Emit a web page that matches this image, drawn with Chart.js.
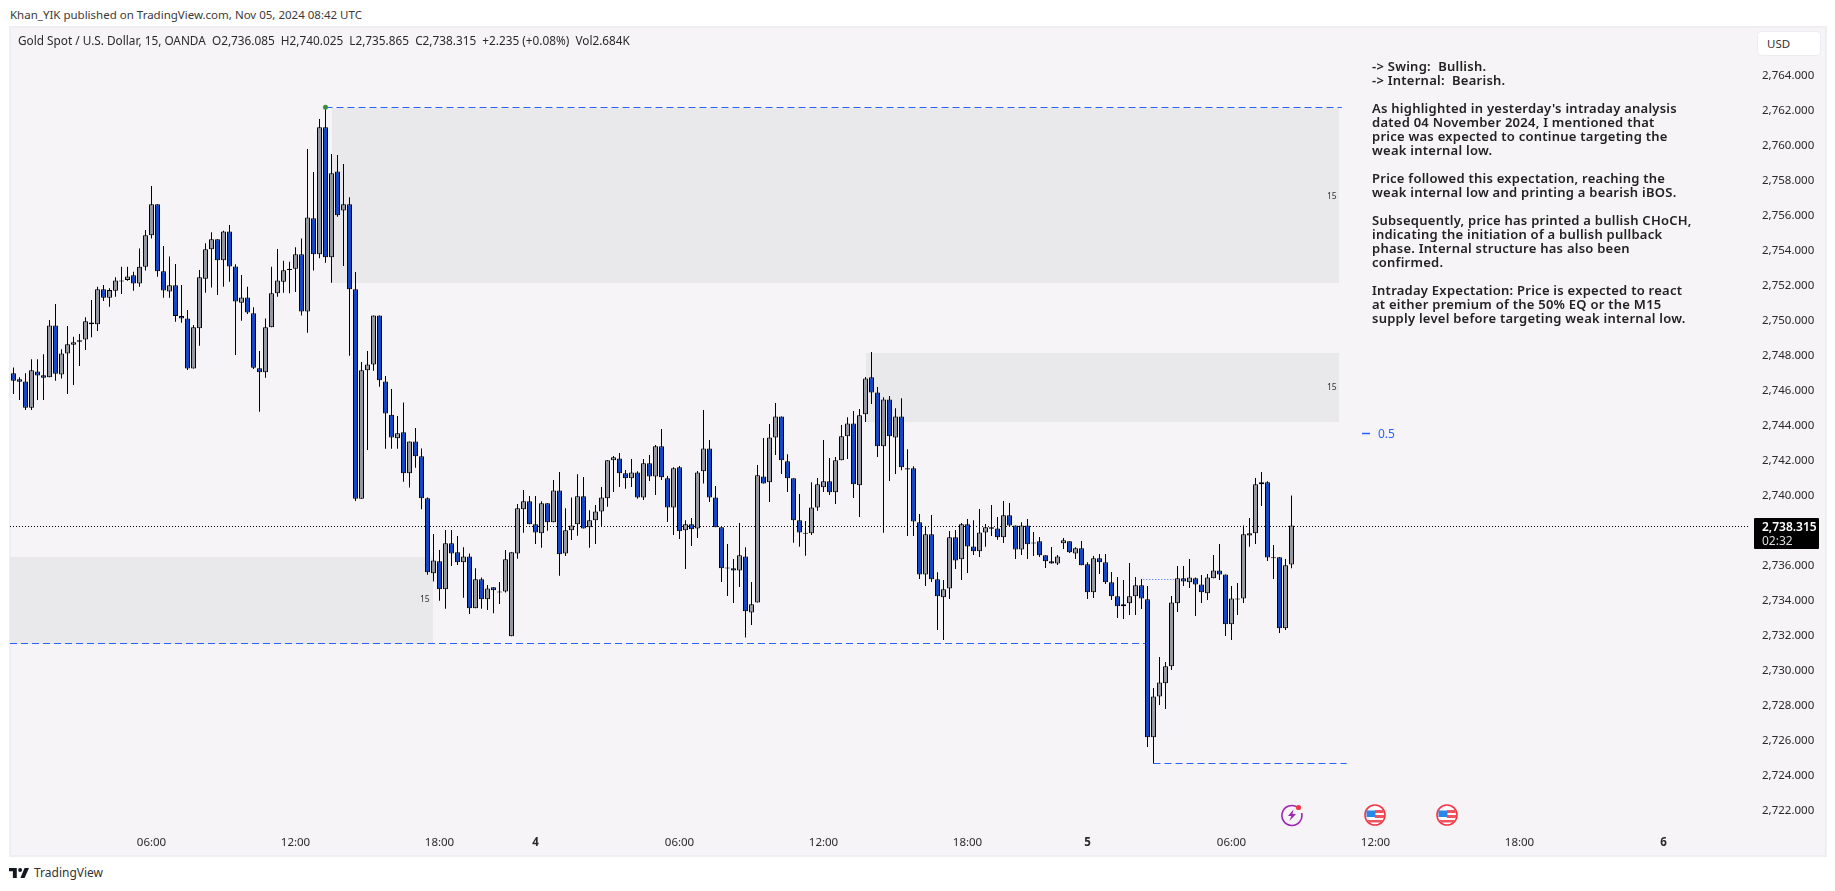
<!DOCTYPE html>
<html>
<head>
<meta charset="utf-8">
<title>Gold Spot / U.S. Dollar</title>
<script src="https://cdn.jsdelivr.net/npm/chart.js@4"></script>
<style>
  html, body { margin: 0; padding: 0; background: #fff; width: 1835px; height: 891px; overflow: hidden; }
  body { position: relative; font-family: "Noto Sans", sans-serif; color: #222; }
  .abs { position: absolute; white-space: pre; }
  #panel { left: 9px; top: 26px; width: 1814px; height: 827px; background: #f6f4f6; border: 2px solid #efeff3; }
  #chart { position: absolute; left: 10px; top: 27px; }
  #title { left: 10px; top: 7px; font-size: 11.5px; line-height: 15px; color: #3a3a3a; }
  #legend { left: 18px; top: 33px; font-size: 11.8px; line-height: 15px; color: #2a2a2a; }
  #notes { left: 1372px; top: 59px; font-size: 13px; letter-spacing: .25px; line-height: 14px; font-weight: 600; color: #222; }
  .zn { font-size: 8.5px; line-height: 10px; color: #333; }
  #usd { left: 1757px; top: 31px; width: 64px; height: 25px; box-sizing: border-box; background: #fff; border: 1px solid #ececf1; border-radius: 4px; font-size: 11.5px; line-height: 23px; padding-left: 9px; color: #333; }
  #last { left: 1754px; top: 518px; width: 57px; height: 29px; background: #000; font-size: 12px; line-height: 14px; padding: 2px 0 0 8px; color: #fff; font-weight: 600; border-radius: 1px; }
  #last span { font-weight: 400; color: #ddd; }
  #half { left: 1378px; top: 426px; font-size: 12px; line-height: 15px; color: #2962ff; }
  #brand { left: 34px; top: 865px; font-size: 12px; line-height: 16px; color: #333; }
</style>
</head>
<body>
<div class="abs" id="panel"></div>
<canvas id="chart" width="1815" height="828"></canvas>
<div class="abs" id="title">Khan_YIK published on TradingView.com, Nov 05, 2024 08:42 UTC</div>
<div class="abs" id="legend">Gold Spot / U.S. Dollar, 15, OANDA  O2,736.085  H2,740.025  L2,735.865  C2,738.315  +2.235 (+0.08%)  Vol2.684K</div>
<div class="abs" id="notes">-&gt; Swing:  Bullish.
-&gt; Internal:  Bearish.

As highlighted in yesterday's intraday analysis
dated 04 November 2024, I mentioned that
price was expected to continue targeting the
weak internal low.

Price followed this expectation, reaching the
weak internal low and printing a bearish iBOS.

Subsequently, price has printed a bullish CHoCH,
indicating the initiation of a bullish pullback
phase. Internal structure has also been
confirmed.

Intraday Expectation: Price is expected to react
at either premium of the 50% EQ or the M15
supply level before targeting weak internal low.</div>
<div class="abs zn" style="left:1327px;top:191px">15</div>
<div class="abs zn" style="left:1327px;top:382px">15</div>
<div class="abs zn" style="left:420px;top:594px">15</div>
<div class="abs" id="half">0.5</div>
<div class="abs" id="usd">USD</div>

<svg class="abs" style="left:1280px;top:803px" width="24" height="24" viewBox="0 0 24 24">
  <path d="M17.5 4.2A10 10 0 1 0 21.6 10" fill="none" stroke="#9c27b0" stroke-width="1.6"/>
  <path d="M13.5 6.5 8 13h3.4l-2 5L16 11h-3.6z" fill="#9c27b0"/>
  <circle cx="18.5" cy="4.5" r="2.6" fill="#f23645"/>
</svg>
<svg class="abs" style="left:1363px;top:803px" width="24" height="24" viewBox="0 0 24 24">
  <circle cx="12" cy="12" r="10" fill="#fff" stroke="#f23645" stroke-width="1.6"/>
  <path d="M12 7h8.6v3H12zM12 12h9v3H12zM4 17h16l-2.5 2.5h-11z" fill="#f0555f"/>
  <path d="M3.5 7.5h9v6.5h-9z" fill="#2a86e8"/>
</svg>
<svg class="abs" style="left:1435px;top:803px" width="24" height="24" viewBox="0 0 24 24">
  <circle cx="12" cy="12" r="10" fill="#fff" stroke="#f23645" stroke-width="1.6"/>
  <path d="M12 7h8.6v3H12zM12 12h9v3H12zM4 17h16l-2.5 2.5h-11z" fill="#f0555f"/>
  <path d="M3.5 7.5h9v6.5h-9z" fill="#2a86e8"/>
</svg>
<svg class="abs" style="left:9px;top:868px" width="20" height="10" viewBox="0 0 36 18">
  <path d="M14 18H7V6H0V0h14v18ZM28 18h-7.5L28 0h8l-8 18Z" fill="#131722"/>
  <circle cx="20" cy="3.5" r="3.5" fill="#131722"/>
</svg>
<div class="abs" id="brand">TradingView</div>

<script>
const opens = [
  2747.01, 2746.67, 2746.55, 2745.05, 2747.12, 2746.90, 2746.78, 2749.75, 2746.95, 2748.15,
  2748.65, 2748.90, 2748.95, 2749.92, 2749.81, 2751.81, 2751.33, 2751.73, 2752.32, 2752.34,
  2752.61, 2752.15, 2753.10, 2754.90, 2756.67, 2752.84, 2751.68, 2752.04, 2750.29, 2750.15,
  2747.28, 2749.58, 2752.42, 2754.10, 2754.67, 2753.47, 2755.12, 2753.12, 2751.05, 2751.35,
  2750.44, 2747.30, 2747.07, 2749.64, 2751.58, 2752.25, 2752.97, 2752.99, 2753.81, 2750.55,
  2755.87, 2753.81, 2761.07, 2753.64, 2758.55, 2756.32, 2756.67, 2751.81, 2739.85, 2747.18,
  2747.52, 2750.32, 2746.55, 2744.65, 2743.30, 2743.64, 2741.30, 2743.12, 2742.27, 2739.87,
  2735.58, 2736.27, 2734.67, 2737.30, 2736.78, 2736.21, 2736.55, 2733.58, 2735.24, 2734.10,
  2734.78, 2734.55, 2734.55, 2731.98, 2736.72, 2739.24, 2739.70, 2738.38, 2737.87, 2739.58,
  2738.50, 2740.32, 2736.72, 2738.04, 2738.38, 2739.98, 2738.21, 2738.61, 2739.12, 2739.87,
  2742.04, 2742.15, 2741.30, 2741.01, 2741.35, 2739.92, 2741.87, 2741.12, 2742.84, 2741.01,
  2739.35, 2741.64, 2738.04, 2738.38, 2738.15, 2741.41, 2742.72, 2739.92, 2738.21, 2735.92,
  2735.87, 2735.75, 2736.55, 2733.35, 2733.92, 2741.12, 2740.78, 2743.35, 2744.55, 2741.98,
  2741.01, 2738.61, 2737.90, 2737.87, 2739.35, 2740.50, 2740.84, 2740.21, 2742.04, 2743.41,
  2744.15, 2740.61, 2744.67, 2746.78, 2745.92, 2742.84, 2745.52, 2743.35, 2744.55, 2741.58,
  2741.58, 2738.50, 2735.52, 2737.81, 2735.24, 2734.21, 2734.72, 2737.64, 2736.38, 2738.38,
  2737.12, 2736.84, 2737.92, 2738.21, 2738.15, 2737.64, 2738.90, 2738.32, 2736.95, 2738.32,
  2737.35, 2737.41, 2736.61, 2736.27, 2736.15, 2737.30, 2737.41, 2736.72, 2737.01, 2736.10,
  2734.50, 2736.44, 2736.21, 2735.07, 2734.27, 2733.70, 2733.87, 2734.27, 2734.90, 2734.10,
  2726.21, 2728.55, 2729.30, 2730.27, 2733.87, 2735.30, 2735.07, 2735.30, 2734.95, 2734.44,
  2735.30, 2735.75, 2735.52, 2732.67, 2734.15, 2734.15, 2737.75, 2737.87, 2740.67, 2740.78,
  2736.50, 2736.50, 2732.44, 2736.085
];
const highs = [
  2747.35, 2746.78, 2747.01, 2747.81, 2747.81, 2748.10, 2750.06, 2750.97, 2748.38, 2749.71,
  2749.10, 2749.26, 2750.21, 2751.20, 2751.96, 2752.06, 2751.87, 2752.50, 2753.10, 2753.10,
  2752.82, 2754.15, 2755.20, 2757.71, 2756.67, 2754.29, 2753.68, 2753.26, 2752.06, 2750.63,
  2749.77, 2752.91, 2754.44, 2755.07, 2754.67, 2755.16, 2755.49, 2753.24, 2752.63, 2751.96,
  2750.78, 2748.29, 2750.15, 2753.10, 2754.11, 2753.45, 2753.39, 2754.21, 2754.71, 2759.83,
  2758.51, 2761.54, 2762.21, 2759.54, 2759.49, 2758.97, 2757.07, 2752.80, 2747.66, 2748.29,
  2750.32, 2750.32, 2746.86, 2746.11, 2744.57, 2745.35, 2743.12, 2743.89, 2742.72, 2739.92,
  2737.83, 2736.91, 2738.06, 2738.06, 2737.71, 2737.07, 2736.72, 2735.87, 2735.35, 2734.91,
  2734.78, 2735.09, 2736.91, 2736.78, 2739.54, 2740.34, 2740.00, 2740.00, 2739.70, 2739.58,
  2740.91, 2741.37, 2739.30, 2739.92, 2741.24, 2741.09, 2739.18, 2739.49, 2740.51, 2742.04,
  2742.29, 2742.46, 2741.49, 2742.11, 2741.41, 2742.11, 2742.34, 2742.91, 2743.83, 2741.14,
  2741.64, 2741.71, 2738.61, 2738.74, 2741.43, 2744.91, 2743.20, 2740.57, 2738.21, 2737.26,
  2736.40, 2738.46, 2737.07, 2735.09, 2741.77, 2743.31, 2744.11, 2745.31, 2744.55, 2742.38,
  2741.01, 2740.11, 2738.57, 2740.78, 2741.03, 2743.20, 2742.17, 2742.23, 2744.06, 2744.50,
  2744.86, 2744.97, 2746.80, 2748.23, 2746.23, 2745.64, 2745.71, 2745.01, 2745.58, 2742.67,
  2741.70, 2738.97, 2738.29, 2738.91, 2735.64, 2735.20, 2738.00, 2738.06, 2738.46, 2738.69,
  2738.61, 2739.26, 2738.40, 2739.49, 2738.80, 2739.71, 2739.60, 2738.32, 2738.50, 2738.69,
  2737.94, 2737.66, 2736.61, 2737.09, 2736.63, 2737.60, 2737.41, 2737.07, 2737.43, 2736.21,
  2736.57, 2736.69, 2736.69, 2735.66, 2735.37, 2735.20, 2736.17, 2735.37, 2735.26, 2734.86,
  2729.03, 2730.80, 2730.51, 2734.29, 2736.00, 2736.00, 2736.40, 2735.35, 2735.49, 2735.54,
  2736.63, 2737.26, 2735.52, 2734.86, 2735.03, 2738.32, 2738.74, 2741.03, 2741.37, 2740.84,
  2737.20, 2736.50, 2736.40, 2740.025
];
const lows = [
  2745.83, 2745.49, 2744.91, 2744.91, 2745.49, 2745.49, 2746.78, 2746.59, 2746.71, 2745.83,
  2746.34, 2747.43, 2748.34, 2749.07, 2749.43, 2751.14, 2750.82, 2751.39, 2751.54, 2752.30,
  2751.73, 2751.96, 2752.88, 2754.71, 2752.53, 2751.33, 2751.33, 2749.96, 2749.90, 2747.20,
  2747.28, 2748.59, 2751.62, 2751.92, 2751.49, 2751.96, 2752.25, 2748.06, 2750.02, 2750.40,
  2747.26, 2744.82, 2746.76, 2749.64, 2751.39, 2751.62, 2751.58, 2751.66, 2750.32, 2749.33,
  2752.88, 2753.58, 2753.33, 2752.19, 2755.96, 2753.14, 2748.02, 2739.71, 2739.85, 2742.63,
  2747.16, 2746.25, 2742.70, 2742.70, 2742.70, 2740.82, 2740.48, 2741.62, 2739.24, 2735.50,
  2735.11, 2734.02, 2733.56, 2736.00, 2736.06, 2734.19, 2733.26, 2733.58, 2733.56, 2733.49,
  2733.30, 2733.83, 2734.48, 2731.98, 2736.42, 2737.90, 2738.38, 2737.26, 2737.05, 2738.02,
  2738.50, 2735.45, 2736.57, 2737.49, 2737.73, 2738.15, 2737.05, 2737.26, 2738.25, 2739.39,
  2740.23, 2740.51, 2740.42, 2740.51, 2739.85, 2739.77, 2740.86, 2740.06, 2740.91, 2738.51,
  2737.77, 2737.54, 2735.83, 2737.14, 2737.60, 2740.72, 2739.66, 2738.21, 2735.09, 2734.29,
  2733.89, 2734.80, 2731.91, 2732.63, 2733.92, 2740.72, 2739.66, 2742.34, 2741.26, 2740.23,
  2737.33, 2737.10, 2736.59, 2737.77, 2739.16, 2740.23, 2740.06, 2739.54, 2742.04, 2742.11,
  2739.89, 2738.80, 2744.23, 2745.26, 2742.23, 2737.90, 2740.86, 2741.26, 2741.47, 2737.71,
  2737.71, 2735.26, 2734.86, 2735.09, 2732.34, 2731.77, 2734.11, 2735.83, 2735.20, 2735.60,
  2736.63, 2736.51, 2737.10, 2737.71, 2737.50, 2737.31, 2738.27, 2736.40, 2736.63, 2736.40,
  2736.57, 2736.51, 2735.89, 2736.15, 2736.06, 2736.97, 2736.74, 2736.40, 2736.04, 2734.11,
  2734.17, 2735.54, 2734.97, 2734.06, 2733.03, 2732.97, 2733.20, 2733.20, 2733.54, 2725.66,
  2724.72, 2728.06, 2727.83, 2730.06, 2733.37, 2734.86, 2734.74, 2733.14, 2733.89, 2734.06,
  2735.30, 2735.20, 2732.00, 2731.77, 2733.20, 2733.89, 2737.10, 2737.26, 2739.43, 2736.29,
  2735.26, 2732.17, 2732.34, 2735.865
];
const closes = [
  2746.59, 2746.53, 2745.05, 2747.18, 2746.88, 2746.76, 2749.75, 2746.99, 2748.15, 2748.67,
  2748.78, 2748.82, 2749.98, 2749.81, 2751.81, 2751.33, 2751.77, 2752.32, 2752.26, 2752.55,
  2752.15, 2753.10, 2754.90, 2756.67, 2752.84, 2751.75, 2752.04, 2750.29, 2750.15, 2747.28,
  2749.64, 2752.50, 2754.10, 2754.67, 2753.47, 2755.12, 2753.12, 2751.12, 2751.35, 2750.48,
  2747.33, 2747.07, 2749.64, 2751.58, 2752.32, 2752.90, 2752.91, 2753.81, 2750.55, 2755.92,
  2753.81, 2761.07, 2753.64, 2758.44, 2756.04, 2756.67, 2751.81, 2739.85, 2747.18, 2747.52,
  2750.32, 2746.61, 2744.72, 2743.35, 2743.58, 2741.30, 2743.12, 2742.27, 2739.87, 2735.64,
  2736.32, 2734.67, 2737.30, 2736.72, 2736.21, 2736.55, 2733.58, 2735.24, 2734.10, 2734.72,
  2734.61, 2734.49, 2736.38, 2736.78, 2739.30, 2739.70, 2738.38, 2737.92, 2739.58, 2738.50,
  2740.32, 2736.67, 2738.04, 2738.32, 2739.98, 2738.15, 2738.61, 2739.12, 2739.92, 2742.04,
  2742.21, 2741.30, 2741.01, 2741.35, 2739.92, 2741.87, 2741.12, 2742.84, 2741.07, 2739.35,
  2741.58, 2737.98, 2738.38, 2738.10, 2741.35, 2742.72, 2739.92, 2738.21, 2735.87, 2735.86,
  2735.75, 2736.61, 2733.41, 2733.81, 2741.18, 2740.72, 2743.35, 2744.55, 2742.04, 2741.01,
  2738.61, 2737.92, 2737.84, 2739.35, 2740.67, 2740.84, 2740.21, 2742.04, 2743.41, 2744.15,
  2740.67, 2744.61, 2746.72, 2745.92, 2742.84, 2745.52, 2743.41, 2744.55, 2741.64, 2741.52,
  2738.55, 2735.52, 2737.81, 2735.24, 2734.27, 2734.67, 2737.64, 2736.32, 2738.38, 2737.12,
  2736.84, 2737.92, 2738.21, 2738.13, 2737.64, 2738.90, 2738.32, 2736.95, 2738.32, 2737.24,
  2737.29, 2736.61, 2736.27, 2736.15, 2736.55, 2737.47, 2736.78, 2737.01, 2736.04, 2734.50,
  2736.44, 2736.21, 2735.07, 2734.27, 2733.70, 2733.81, 2734.27, 2734.90, 2734.15, 2726.21,
  2728.55, 2729.35, 2730.27, 2733.92, 2735.30, 2735.12, 2735.35, 2734.95, 2734.50, 2735.35,
  2735.75, 2735.52, 2732.67, 2734.15, 2734.09, 2737.81, 2737.87, 2740.67, 2740.78, 2736.48,
  2736.44, 2732.44, 2736.04, 2738.315
];

// candle index of each time label on the bottom axis
const timeTicks = [23, 47, 71, 87, 111, 135, 159, 179, 203, 227, 251, 275];
const timeLabels = ['06:00', '12:00', '18:00', '4', '06:00', '12:00', '18:00', '5', '06:00', '12:00', '18:00', '6'];
const dayLabels = ['4', '5', '6'];
// 2,738 sits under the last-price tag in the picture, so it is left out
const priceTicks = [
  2764, 2762, 2760, 2758, 2756, 2754, 2752, 2750, 2748, 2746, 2744,
  2742, 2740, 2736, 2734, 2732, 2730, 2728, 2726, 2724, 2722
];

// supply/demand boxes, x in candle index
const zoneStart = [53.083, 142.083, -0.5833];
const zoneEnd = [220.917, 220.917, 69.917];
const zoneTop = [2762.171, 2748.171, 2736.514];
const zoneBottom = [2752.171, 2744.229, 2731.543];

const priceLine = [[-0.5833, 2738.257], [289.4167, 2738.257]];
const swingHighLine = [[52, 2762.2], [221.4, 2762.2]];
const weakLowLine = [[-0.5833, 2731.571], [189, 2731.571]];
const newLowLine = [[190, 2724.714], [222.2, 2724.714]];
const bosLine = [[188.3, 2735.229], [193.7, 2735.229]];
const eqLine = [[224.75, 2743.571], [226.08, 2743.571]];
const swingPoint = [[52, 2762.21]];

const xMin = -0.5833;
const xMax = 289.4167;
const yMax = 2766.8;
const yMin = 2721.029;

const BLUE = '#1546c8';
const GRAY = '#9598a1';
const LINE_BLUE = '#2962ff';

function toPoints(pairs) {
  return pairs.map(p => ({x: p[0], y: p[1]}));
}

function lineSet(pairs, color, dash, width) {
  return {
    type: 'line',
    data: toPoints(pairs),
    borderColor: color,
    borderDash: dash,
    borderWidth: width || 1,
    pointRadius: 0,
    order: 3,
  };
}

// the plot must sit at fixed pixels, so drop the room chart.js keeps for edge labels
function fixAxis(scale, size) {
  if (scale.isHorizontal()) scale.height = size;
  else scale.width = size;
  scale.paddingLeft = scale.paddingRight = scale.paddingTop = scale.paddingBottom = 0;
}

const zonePlugin = {
  id: 'zones',
  beforeDatasetsDraw(chart) {
    const {ctx, scales: {x, y}} = chart;
    ctx.save();
    ctx.fillStyle = '#e9e9eb';
    zoneStart.forEach((start, i) => {
      const left = x.getPixelForValue(start);
      const top = y.getPixelForValue(zoneTop[i]);
      ctx.fillRect(left, top, x.getPixelForValue(zoneEnd[i]) - left, y.getPixelForValue(zoneBottom[i]) - top);
    });
    ctx.restore();
  }
};

new Chart(document.getElementById('chart'), {
  type: 'bar',
  data: {
    datasets: [
      lineSet(priceLine, '#000', [1, 2]),
      lineSet(swingHighLine, LINE_BLUE, [7, 4]),
      lineSet(weakLowLine, LINE_BLUE, [7, 4]),
      lineSet(newLowLine, LINE_BLUE, [7, 4]),
      lineSet(bosLine, LINE_BLUE, [1, 2]),
      lineSet(eqLine, LINE_BLUE, [], 1.5),
      {
        type: 'line',
        data: toPoints(swingPoint),
        showLine: false,
        pointRadius: 2.5,
        pointBorderWidth: 0,
        pointBackgroundColor: '#388e3c',
        order: 0,
      },
      {
        data: highs.map((h, i) => ({x: i, y: [lows[i], h]})),
        backgroundColor: '#000',
        borderWidth: 0,
        barThickness: 1,
        grouped: false,
        inflateAmount: 0,
        order: 2,
      },
      {
        data: opens.map((o, i) => ({x: i, y: [o, closes[i]]})),
        backgroundColor: opens.map((o, i) => closes[i] < o ? BLUE : GRAY),
        borderColor: '#000',
        borderWidth: 1,
        borderSkipped: false,
        barThickness: 5,
        grouped: false,
        inflateAmount: 0,
        order: 1,
      },
    ]
  },
  plugins: [zonePlugin],
  options: {
    responsive: false,
    animation: false,
    devicePixelRatio: 1,
    layout: {padding: 0, autoPadding: false},
    plugins: {legend: {display: false}, tooltip: {enabled: false}},
    scales: {
      x: {
        type: 'linear',
        offset: false,
        bounds: 'data',
        min: xMin,
        max: xMax,
        grid: {display: false, offset: false},
        border: {display: false},
        afterFit: s => fixAxis(s, 27),
        afterBuildTicks: s => { s.ticks = timeTicks.map(value => ({value})); },
        ticks: {
          autoSkip: false,
          maxRotation: 0,
          padding: 0,
          color: '#2a2a2a',
          font: ctx => ({
            family: 'Noto Sans',
            size: 11.5,
            weight: dayLabels.includes(timeLabels[ctx.index]) ? 'bold' : 'normal',
          }),
          callback: (value, i) => timeLabels[i],
        },
      },
      y: {
        type: 'linear',
        position: 'right',
        bounds: 'data',
        min: yMin,
        max: yMax,
        grid: {display: false},
        border: {display: false},
        afterFit: s => fixAxis(s, 75),
        afterBuildTicks: s => { s.ticks = priceTicks.map(value => ({value})); },
        ticks: {
          autoSkip: false,
          padding: 4,
          color: '#2a2a2a',
          font: {family: 'Noto Sans', size: 11.5},
          callback: v => v.toLocaleString('en-US', {minimumFractionDigits: 3}),
        },
      },
    },
  },
});
</script>
<div class="abs" id="last">2,738.315
<span>02:32</span></div>
</body>
</html>
